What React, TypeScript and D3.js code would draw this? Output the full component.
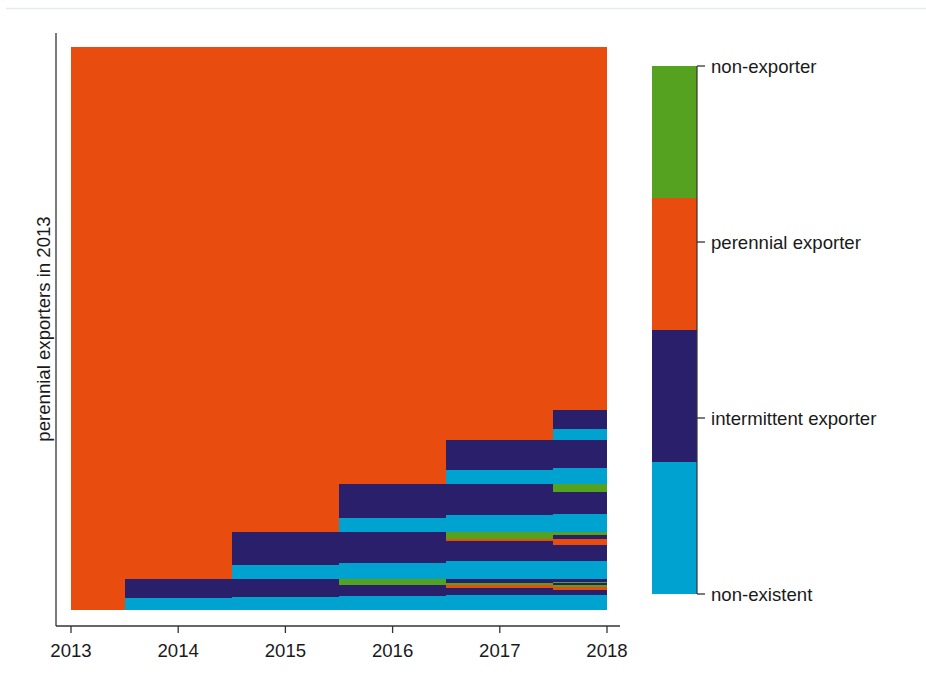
import React from "react";
import * as d3 from "d3";

// Years on the x axis
const years = [2013, 2014, 2015, 2016, 2017, 2018];

// State codes: P perennial exporter, I intermittent exporter, X non-existent, N non-exporter
const stateKeys = ["X", "I", "P", "N"];
const stateLabels = ["non-existent", "intermittent exporter", "perennial exporter", "non-exporter"];
const stateColors = ["#00a2cf", "#2a1f6b", "#e84c0e", "#54a21f"];

// Sequences, ordered from bottom of the plot to top
const sequences = [
  "PXXXXX", "PIXXXX", "PIIXXX", "PIIIXX", "PIIIII", "PIIIIP", "PIIIPP", "PIIIPN",
  "PIINNI", "PIININ", "PIINII", "PPXXXX", "PPIXXX", "PPIIXX", "PPIIII", "PPIIIP",
  "PPIIPP", "PPIINI", "PPIINN", "PPPXXX", "PPPIXX", "PPPIIX", "PPPIII", "PPPIIN",
  "PPPPXX", "PPPPIX", "PPPPII", "PPPPPX", "PPPPPI", "PPPPPP",
];
// Number of firms following each sequence
const counts = [
  12, 1, 1, 1, 5, 2, 1, 2,
  2, 1, 3, 14, 2, 2, 16, 4,
  2, 4, 3, 14, 3, 1, 22, 8,
  14, 2, 28, 11, 19, 363,
];

const yAxisTitle = "perennial exporters in 2013";

export default function App() {
  const W = 926;
  const H = 684;
  const font = "'Liberation Sans', Arial, sans-serif";
  const fs = 18.6;

  const x = d3.scaleLinear().domain([2013, 2018]).range([71, 607]);
  const total = d3.sum(counts);
  const y = d3.scaleLinear().domain([0, total]).range([610, 47]);
  const color = d3.scaleOrdinal<string, string>().domain(stateKeys).range(stateColors);
  const step = x(2014) - x(2013);

  const cum = d3.cumsum(counts);
  const rows = sequences.map((s, i) => ({ seq: s, lo: i === 0 ? 0 : cum[i - 1], hi: cum[i] }));

  const cells: { x0: number; x1: number; y0: number; y1: number; fill: string; key: string }[] = [];
  rows.forEach((r, ri) => {
    years.forEach((yr, j) => {
      const x0 = Math.max(x(yr) - step / 2, x(2013));
      const x1 = Math.min(x(yr) + step / 2, x(2018));
      cells.push({
        x0,
        x1,
        y0: y(r.hi),
        y1: y(r.lo),
        fill: color(r.seq[j]),
        key: `${ri}-${j}`,
      });
    });
  });

  // Legend (color bar)
  const legTop = 66;
  const legBottom = 594;
  const legX0 = 652;
  const legX1 = 697;
  const legBand = d3.scaleBand<number>().domain([3, 2, 1, 0]).range([legTop, legBottom]);
  const legTick = d3.scaleLinear().domain([3, 0]).range([legTop, legBottom]);

  return (
    <div style={{ position: "absolute", left: 0, top: 0 }}>
      <svg width={W} height={H} style={{ display: "block", background: "#fff" }}>
        <line x1={6} x2={W} y1={8.5} y2={8.5} stroke="#e3ecee" strokeWidth={1.5} />
        <g shapeRendering="crispEdges">
          {cells.map((c) => (
            <rect key={c.key} x={c.x0} y={c.y0} width={c.x1 - c.x0} height={c.y1 - c.y0} fill={c.fill} />
          ))}
        </g>
        {/* axes */}
        <line x1={56} x2={56} y1={33} y2={626} stroke="#333" strokeWidth={1.3} />
        <line x1={56} x2={620} y1={626} y2={626} stroke="#333" strokeWidth={1.3} />
        {years.map((yr) => (
          <g key={yr} transform={`translate(${x(yr)},626)`}>
            <line y1={0} y2={7} stroke="#333" strokeWidth={1.3} />
            <text y={31} textAnchor="middle" fontFamily={font} fontSize={fs} fill="#1a1a1a">
              {yr}
            </text>
          </g>
        ))}
        <text
          transform="translate(50,329) rotate(-90)"
          textAnchor="middle"
          fontFamily={font}
          fontSize={fs}
          fill="#1a1a1a"
        >
          {yAxisTitle}
        </text>
        {/* legend */}
        <g shapeRendering="crispEdges">
          {[0, 1, 2, 3].map((i) => (
            <rect
              key={i}
              x={legX0}
              y={legBand(i)!}
              width={legX1 - legX0}
              height={legBand.bandwidth()}
              fill={stateColors[i]}
            />
          ))}
        </g>
        <line x1={legX1} x2={legX1} y1={legTop} y2={legBottom} stroke="#333" strokeWidth={1.2} />
        {[0, 1, 2, 3].map((i) => (
          <g key={i} transform={`translate(${legX1},${legTick(i)})`}>
            <line x1={0} x2={8} stroke="#333" strokeWidth={1.3} />
            <text x={14} dy="0.35em" fontFamily={font} fontSize={fs} fill="#1a1a1a">
              {stateLabels[i]}
            </text>
          </g>
        ))}
      </svg>
    </div>
  );
}
